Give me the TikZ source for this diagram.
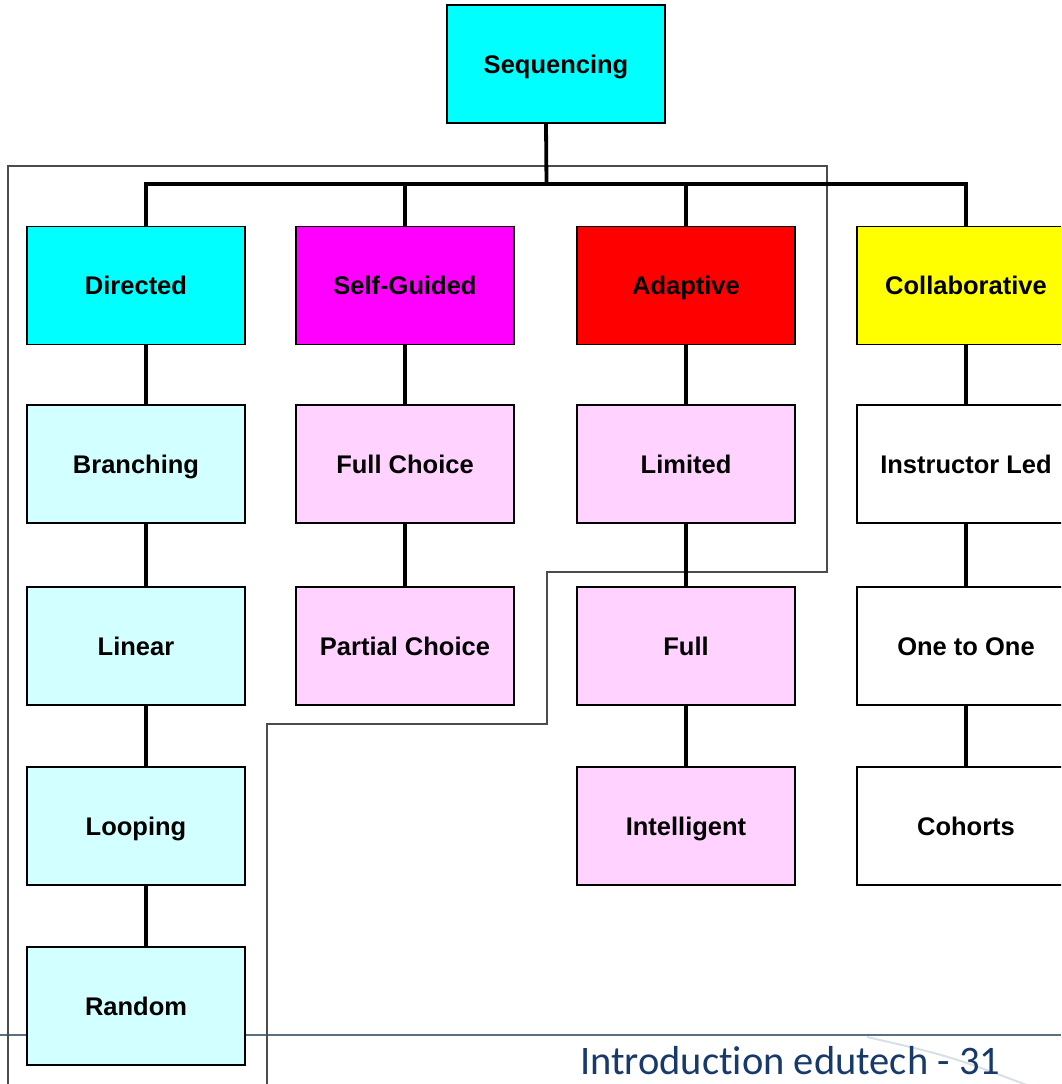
\documentclass[tikz,border=0pt]{standalone}
\usepackage{fontspec}
\setmainfont{Liberation Sans}
\newfontfamily\footfont[Ligatures={NoCommon,NoContextual}]{Carlito}
\definecolor{Aqua}{HTML}{00FFFF}
\definecolor{Fuchsia}{HTML}{FF00FF}
\definecolor{Scarlet}{HTML}{FF0000}
\definecolor{Lemon}{HTML}{FFFF00}
\definecolor{PaleCyan}{HTML}{D2FFFF}
\definecolor{PalePink}{HTML}{FFD2FF}
\definecolor{Slate}{HTML}{5A7080}
\definecolor{Navy}{HTML}{173A6B}
\definecolor{Mist}{HTML}{D8E0E6}

\begin{document}
\begin{tikzpicture}[
    x=1pt,y=-1pt,
    Box/.style={draw,line width=1.8pt,minimum width=218pt,minimum height=118pt,inner sep=0pt,
      text height=18.5pt,text depth=0pt,font=\fontsize{25.5}{30}\selectfont\bfseries},
    Link/.style={line width=3.8pt,line join=miter},
    Frame/.style={line width=2pt,draw=black!70},
    ]
    \clip (0,0) rectangle (1061,1084);

    \draw[line width=2.5pt,Slate] (0,1035) -- (1061,1035);
    \draw[line width=2pt,Mist] (867,1037) .. controls (950,1056) .. (1040,1090);
    \node[anchor=base west,inner sep=0pt,text=Navy,font=\footfont\fontsize{40.5}{44}\selectfont] at (580,1074) (Foot) {Introduction edutech - 31};

    \draw[Frame] (8,1090) -- (8,166) -- (827,166) -- (827,572) -- (547,572) -- (547,724) -- (267,724) -- (267,1090);

    \node[Box,fill=Aqua]     at (556,64)     (Seq)   {Sequencing};

    \node[Box,fill=Aqua]     at (136,285.5)  (Dir)   {Directed};
    \node[Box,fill=PaleCyan] at (136,464)    (Bran)  {Branching};
    \node[Box,fill=PaleCyan] at (136,646)    (Lin)   {Linear};
    \node[Box,fill=PaleCyan] at (136,826)    (Loop)  {Looping};
    \node[Box,fill=PaleCyan] at (136,1006)   (Rand)  {Random};

    \node[Box,fill=Fuchsia]  at (405,285.5)  (Self)  {Self-Guided};
    \node[Box,fill=PalePink] at (405,464)    (FullC) {Full Choice};
    \node[Box,fill=PalePink] at (405,646)    (PartC) {Partial Choice};

    \node[Box,fill=Scarlet]  at (686,285.5)  (Adap)  {Adaptive};
    \node[Box,fill=PalePink] at (686,464)    (Lim)   {Limited};
    \node[Box,fill=PalePink] at (686,646)    (Full)  {Full};
    \node[Box,fill=PalePink] at (686,826)    (Intel) {Intelligent};

    \node[Box,fill=Lemon]    at (966,285.5)  (Coll)  {Collaborative};
    \node[Box,fill=white]    at (966,464)    (Instr) {Instructor Led};
    \node[Box,fill=white]    at (966,646)    (One)   {One to One};
    \node[Box,fill=white]    at (966,826)    (Coh)   {Cohorts};

    \coordinate (bus) at (546.5,184);
    \draw[Link] ([xshift=-10pt]Seq.south) -- (bus);
    \draw[Link] ([xshift=10pt]Dir.north) |- (bus) -| (Coll.north);
    \draw[Link] (Self.north) -- (Self.north |- bus);
    \draw[Link] (Adap.north) -- (Adap.north |- bus);

    \foreach \a/\b in {Dir/Bran,Bran/Lin,Lin/Loop,Loop/Rand}
      \draw[Link] ([xshift=10pt]\a.south) -- ([xshift=10pt]\b.north);
    \foreach \a/\b in {Self/FullC,FullC/PartC,Adap/Lim,Lim/Full,Full/Intel,Coll/Instr,Instr/One,One/Coh}
      \draw[Link] (\a.south) -- (\b.north);
  \end{tikzpicture}
\end{document}
